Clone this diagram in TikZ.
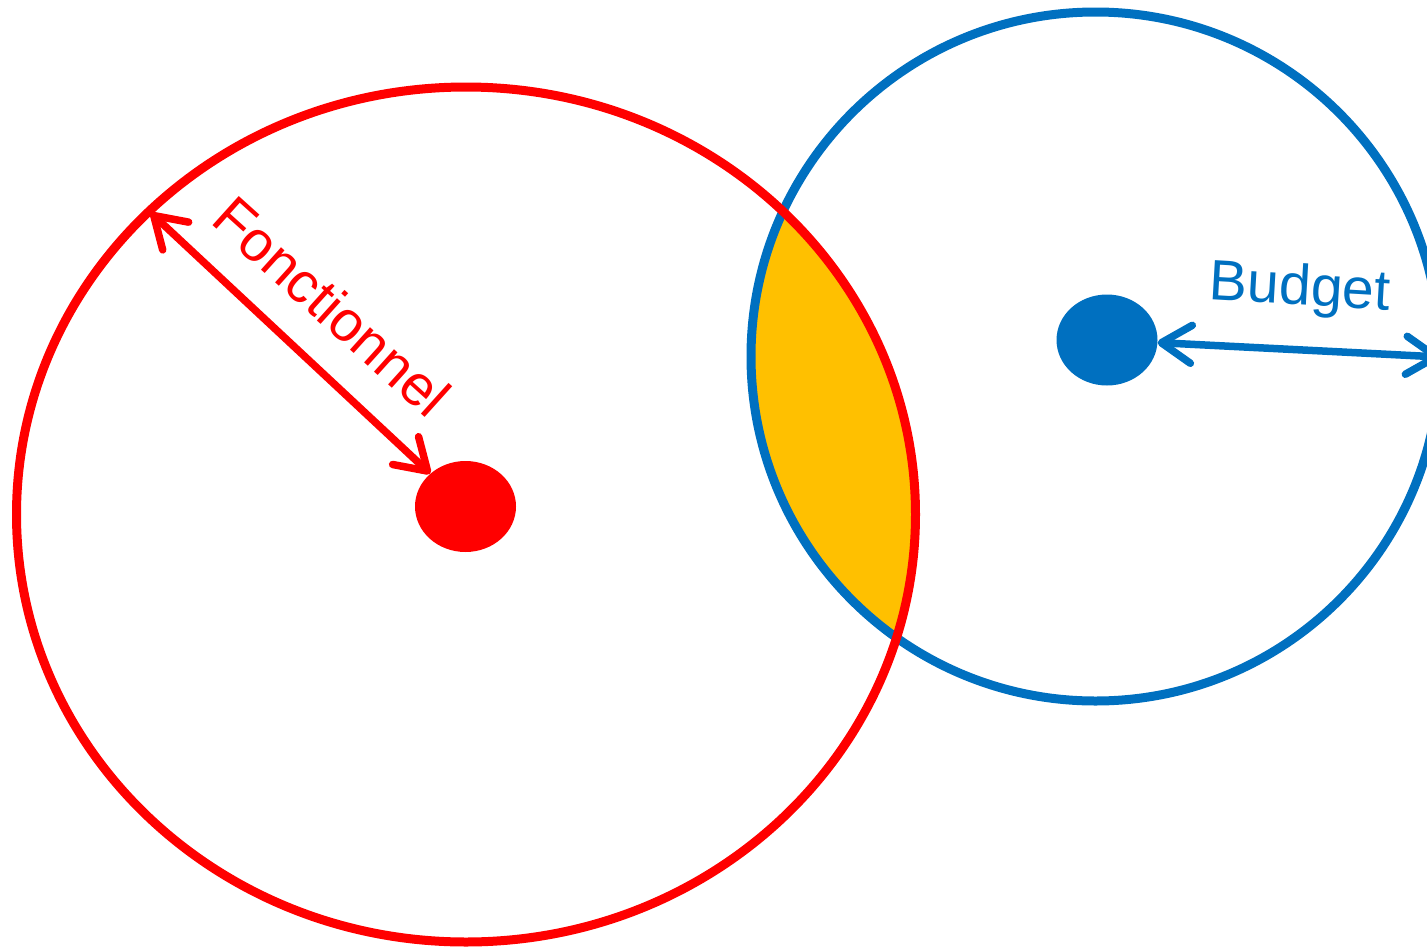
\documentclass[tikz,border=0pt]{standalone}
\usepackage{fontspec}
\setmainfont{Liberation Sans}
\usetikzlibrary{arrows.meta,shapes.geometric}
\definecolor{cred}{HTML}{FF0000}
\definecolor{cblue}{HTML}{0070C0}
\definecolor{cyellow}{HTML}{FFC000}
\tikzset{barb/.tip={Straight Barb[length=30pt,width=38pt,round]}}
\begin{document}
\begin{tikzpicture}[x=1pt,y=-1pt,
  ring/.style={line width=9pt},
  dot/.style={ellipse, minimum width=101pt, minimum height=91pt, inner sep=0pt, fill=#1},
  dim/.style={line width=7.5pt, draw=#1, barb-barb},
  lab/.style={font=\fontsize{57}{60}\selectfont, inner sep=0pt, anchor=base}
]
\useasboundingbox (0,0) rectangle (1427,948);
\clip (0,0) rectangle (1427,948);
% intersection
\begin{scope}
  \clip (466,514.5) ellipse [x radius=449.5, y radius=427.5];
  \fill[cyellow] (1095.5,356.5) circle [radius=344.5];
\end{scope}
% rings
\draw[ring, cblue] (1095.5,356.5) circle [radius=344.5];
\draw[ring, cred] (466,514.5) ellipse [x radius=449.5, y radius=427.5];
% dots
\node[dot=cred] (rdot) at (465.5,506.5) {};
\node[dot=cblue] (bdot) at (1107,340) {};
% arrow ends
\coordinate (rtop) at (151,213);
\coordinate (bend) at (1440,357);
\draw[dim=cred] (rtop) -- (rdot);
\draw[dim=cblue] (bdot) -- (bend);
% labels
\node[lab, text=cred, rotate=-42] (fonc) at (318.5,321.5) {Fonctionnel};
\node[lab, text=cblue, rotate=-3.3] (budg) at (1299,305) {Budget};
\end{tikzpicture}
\end{document}
